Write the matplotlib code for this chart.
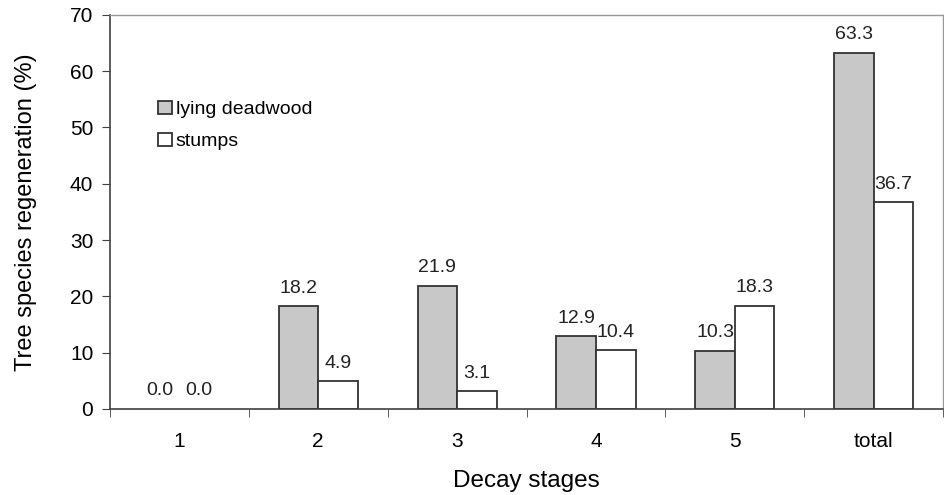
import numpy as np
from matplotlib import pyplot as plt

categories = ['1', '2', '3', '4', '5', 'total']
lying = [0.0, 18.2, 21.9, 12.9, 10.3, 63.3]
stumps = [0.0, 4.9, 3.1, 10.4, 18.3, 36.7]

plt.rcParams['font.family'] = ['Liberation Sans', 'DejaVu Sans']

fig = plt.figure(figsize=(9.44, 4.95), dpi=100)
ax = fig.add_axes([0.1165, 0.174, 0.8825, 0.796])

x = np.arange(len(categories))
w = 0.285
b1 = ax.bar(x - w/2, lying, w, color='#c8c8c8', edgecolor='#333333', linewidth=1.3, label='lying deadwood')
b2 = ax.bar(x + w/2, stumps, w, color='white', edgecolor='#333333', linewidth=1.3, label='stumps')

ax.legend(handles=[b1, b2], loc='upper left', bbox_to_anchor=(0.037, 0.827), frameon=False,
          handlelength=0.7, handleheight=0.7, handletextpad=0.2,
          labelspacing=0.75, fontsize=14)

for bars, vals in ((b1, lying), (b2, stumps)):
    for r, v in zip(bars, vals):
        if v == 0:
            r.set_linewidth(0)
        ax.annotate('{:.1f}'.format(v), (r.get_x() + r.get_width()/2, v),
                    xytext=(0, 7), textcoords='offset points',
                    ha='center', va='bottom', fontsize=14, color='#222222')

ax.set_xlim(-0.5, len(categories) - 0.5)
ax.set_ylim(0, 70)
ax.set_yticks(range(0, 71, 10))
ax.set_xticks(x)
ax.set_xticklabels(categories)
ax.set_xticks(np.arange(-0.5, len(categories), 1), minor=True)
ax.tick_params(axis='x', which='major', length=0, pad=17, labelsize=15)
ax.tick_params(axis='x', which='minor', length=6, direction='out', color='#404040')
ax.tick_params(axis='y', length=6, direction='out', color='#404040', labelsize=15, pad=6)

for s in ('left', 'bottom'):
    ax.spines[s].set_color('#404040')
    ax.spines[s].set_linewidth(1.2)
for s in ('top', 'right'):
    ax.spines[s].set_color('#999999')
    ax.spines[s].set_linewidth(1.0)

ax.set_xlabel('Decay stages', fontsize=17.5, labelpad=13)
ax.set_ylabel('Tree species regeneration (%)', fontsize=17, labelpad=24)

fig.savefig('out.png', dpi=100)
